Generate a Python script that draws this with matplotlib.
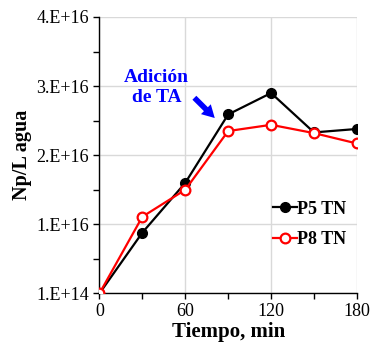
import matplotlib
matplotlib.use("Agg")
import matplotlib.pyplot as plt
from matplotlib.ticker import MultipleLocator, FixedLocator

plt.rcParams['font.family'] = ['Liberation Serif', 'DejaVu Serif']

tiempo = [0, 30, 60, 90, 120, 150, 180]
p5_tn = [1e14, 8.9e15, 1.61e16, 2.60e16, 2.91e16, 2.34e16, 2.39e16]
p8_tn = [1e14, 1.12e16, 1.51e16, 2.36e16, 2.45e16, 2.33e16, 2.18e16]
ytick_vals = [1e14, 1.01e16, 2.01e16, 3.01e16, 4.01e16]
ytick_labels = ["1.E+14", "1.E+16", "2.E+16", "3.E+16", "4.E+16"]
xtick_vals = [0, 60, 120, 180]

fig = plt.figure(figsize=(3.71, 3.54), dpi=100)
ax = fig.add_axes([0.268, 0.171, 0.694, 0.781])

ax.plot(tiempo, p5_tn, color='black', lw=1.6, marker='o', ms=7,
        mfc='black', mec='black', label='P5 TN', zorder=3)
ax.plot(tiempo, p8_tn, color='#ff0000', lw=1.6, marker='o', ms=7,
        mfc='white', mec='#ff0000', mew=1.6, label='P8 TN', zorder=3)

ax.set_xlim(0, 180)
ax.set_ylim(1e14, 4.01e16)
ax.xaxis.set_major_locator(FixedLocator(xtick_vals))
ax.xaxis.set_minor_locator(MultipleLocator(30))
ax.yaxis.set_major_locator(FixedLocator(ytick_vals))
ax.set_yticklabels(ytick_labels)
ax.yaxis.set_minor_locator(FixedLocator([0.51e16, 1.51e16, 2.51e16, 3.51e16]))

ax.grid(True, which='major', color='#d9d9d9', lw=1.0, zorder=0)
ax.set_axisbelow(True)
for s in ['top', 'right']:
    ax.spines[s].set_visible(False)
for s in ['left', 'bottom']:
    ax.spines[s].set_color('black')
    ax.spines[s].set_linewidth(1.0)

ax.tick_params(which='both', direction='out', length=4, width=1, labelsize=13, colors='black')
ax.tick_params(axis='x', pad=3)

ax.set_xlabel('Tiempo, min', fontsize=15, fontweight='bold', labelpad=1)
ax.set_ylabel('Np/L agua', fontsize=14.5, fontweight='bold', labelpad=3)

ax.annotate('', xy=(82, 2.52e16), xytext=(65, 2.87e16),
            arrowprops=dict(arrowstyle='simple,head_width=1.0,head_length=0.9,tail_width=0.4',
                            color='#0000ff', lw=0))
ax.text(40, 2.99e16, 'Adición\nde TA', color='#0000ff', fontsize=14, fontweight='bold',
        ha='center', va='center', linespacing=1.25)

leg = ax.legend(loc='upper left', bbox_to_anchor=(0.64, 0.368), frameon=False,
                handlelength=1.3, handletextpad=0.0, borderpad=0, labelspacing=0.75,
                prop={'weight': 'bold', 'size': 13})

fig.savefig('out.png', dpi=100)
